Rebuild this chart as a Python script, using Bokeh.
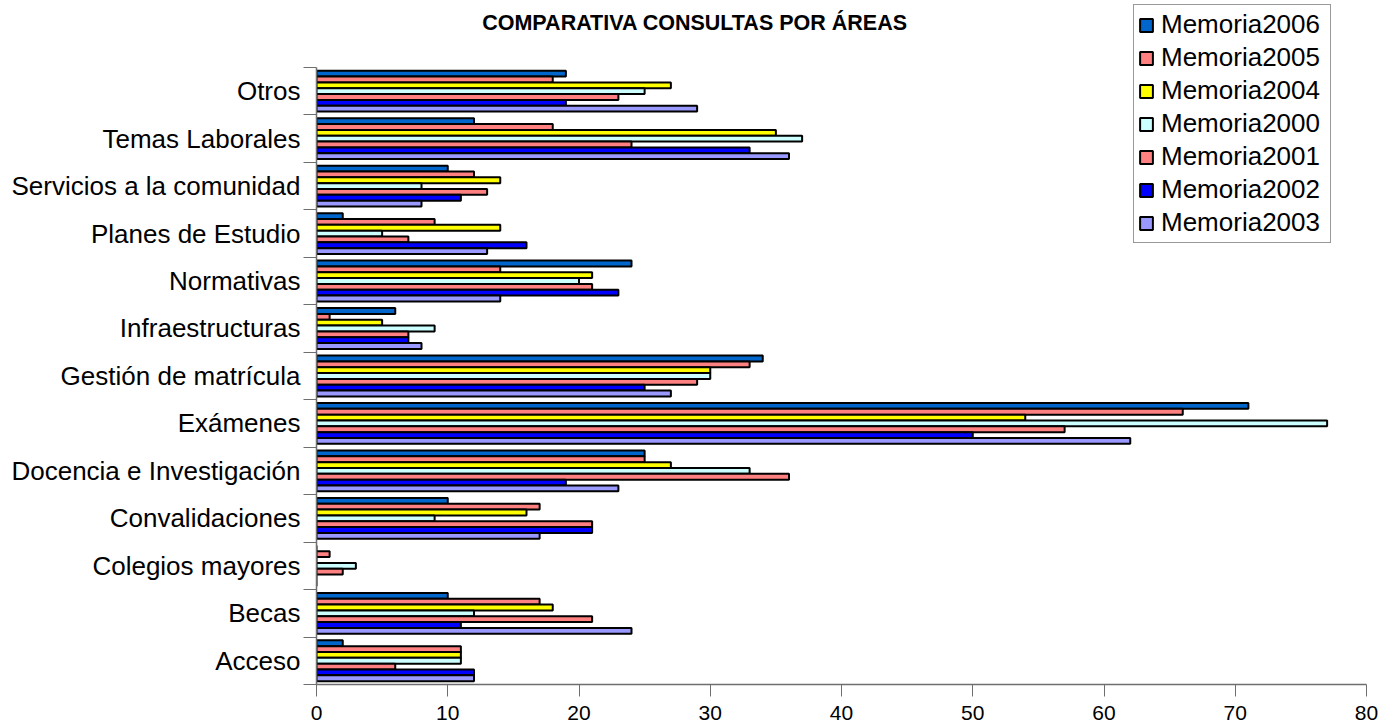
from bokeh.plotting import figure
from bokeh.models import Range1d, FixedTicker, Legend, LegendItem, ColumnDataSource, Label
from bokeh.embed import file_html
from bokeh.resources import INLINE

categories = ["Acceso", "Becas", "Colegios mayores", "Convalidaciones",
              "Docencia e Investigación", "Exámenes", "Gestión de matrícula",
              "Infraestructuras", "Normativas", "Planes de Estudio",
              "Servicios a la comunidad", "Temas Laborales", "Otros"]

m2006 = [2, 10, 0, 10, 25, 71, 34, 6, 24, 2, 10, 12, 19]
m2005 = [11, 17, 1, 17, 25, 66, 33, 1, 14, 9, 12, 18, 18]
m2004 = [11, 18, 0, 16, 27, 54, 30, 5, 21, 14, 14, 35, 27]
m2000 = [11, 12, 3, 9, 33, 77, 30, 9, 20, 5, 8, 37, 25]
m2001 = [6, 21, 2, 21, 36, 57, 29, 7, 21, 7, 13, 24, 23]
m2002 = [12, 11, 0, 21, 19, 50, 25, 7, 23, 16, 11, 33, 19]
m2003 = [12, 24, 0, 17, 23, 62, 27, 8, 14, 13, 8, 36, 29]

series_names = ["Memoria2006", "Memoria2005", "Memoria2004", "Memoria2000",
                "Memoria2001", "Memoria2002", "Memoria2003"]
series_values = [m2006, m2005, m2004, m2000, m2001, m2002, m2003]
colors = ["#0066CC", "#FF8080", "#FFFF00", "#CCFFFF", "#FF8080", "#0000FF", "#9999FF"]

x_ticks = [0, 10, 20, 30, 40, 50, 60, 70, 80]
title_text = "COMPARATIVA CONSULTAS POR ÁREAS"

FONT = "Liberation Sans"
n_cat = len(categories)
n_ser = len(series_names)
band = 0.86
h = band / n_ser
y_end = 14.41   # extra room above the categories for title and legend

p = figure(width=1392, height=726, x_range=Range1d(0, 80), y_range=Range1d(0, y_end),
           output_backend="svg", toolbar_location=None,
           min_border_left=316, min_border_right=26, min_border_top=0, min_border_bottom=42)
p.background_fill_color = "white"
p.outline_line_color = None
p.xgrid.visible = False
p.ygrid.visible = False

renderers = []
for j, (name, vals, col) in enumerate(zip(series_names, series_values, colors)):
    ys = [i + 0.5 + ((n_ser - 1) / 2 - j) * h for i in range(n_cat)]
    src = ColumnDataSource(dict(y=ys, right=vals, cat=categories))
    r = p.hbar(y="y", right="right", left=0, height=h, source=src,
               fill_color=col, line_color="black", line_width=2)
    renderers.append((name, r))

# axes
xa = p.xaxis[0]
xa.ticker = FixedTicker(ticks=x_ticks)
xa.minor_tick_line_color = None
xa.major_tick_out = 12
xa.major_tick_in = 0
xa.major_tick_line_color = "#6e6e6e"
xa.axis_line_color = "#6e6e6e"
xa.axis_line_width = 1.5
xa.major_label_text_font = FONT
xa.major_label_text_font_size = "21px"
xa.major_label_text_color = "black"
xa.major_label_standoff = 9

ya = p.yaxis[0]
centers = [i + 0.5 for i in range(n_cat)]
bounds = [float(i) for i in range(n_cat + 1)]
ya.ticker = FixedTicker(ticks=centers, minor_ticks=bounds)
ya.bounds = (0, n_cat)
ya.major_label_overrides = {c: lab for c, lab in zip(centers, categories)}
ya.major_tick_line_color = None
ya.major_tick_out = 0
ya.major_tick_in = 0
ya.minor_tick_out = 13
ya.minor_tick_in = 0
ya.minor_tick_line_color = "#6e6e6e"
ya.axis_line_color = "#6e6e6e"
ya.axis_line_width = 1.5
ya.major_label_text_font = FONT
ya.major_label_text_font_size = "26px"
ya.major_label_text_color = "black"
ya.major_label_standoff = 3

# title
p.add_layout(Label(x=28.84, y=13.94, text=title_text, text_align="center",
                   text_baseline="middle", text_font=FONT, text_font_size="21.5px",
                   text_font_style="bold", text_color="black"))

legend = Legend(items=[LegendItem(label=n, renderers=[r]) for n, r in renderers],
                location=(817, 441), orientation="vertical",
                label_text_font=FONT, label_text_font_size="26px",
                label_text_color="black", glyph_width=16, glyph_height=16,
                label_height=26, label_width=165, spacing=2, padding=4, label_standoff=7,
                border_line_color="#333333", border_line_width=1.5,
                background_fill_color="white", background_fill_alpha=1.0)
p.add_layout(legend, "center")

open("out.html", "w").write(file_html(p, INLINE))
